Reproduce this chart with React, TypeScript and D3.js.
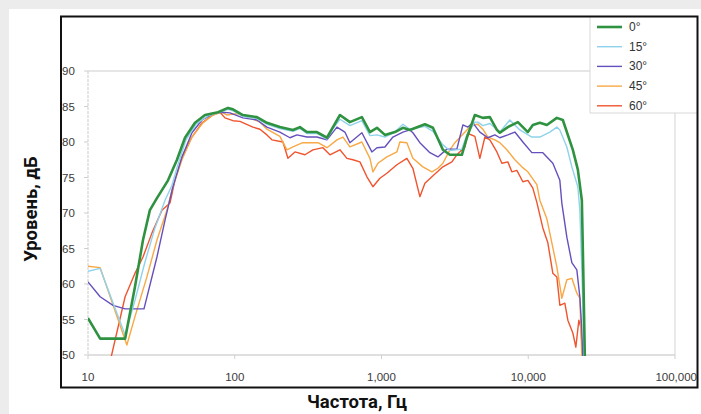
import React from "react";
import * as d3 from "d3";

const FREQ_TICKS = [10, 100, 1000, 10000, 100000];
const FREQ_LABELS = ["10", "100", "1,000", "10,000", "100,000"];
const DB_TICKS = [50, 55, 60, 65, 70, 75, 80, 85, 90];
const SERIES_NAMES = ["0°", "15°", "30°", "45°", "60°"];
const SERIES_COLORS = ["#2f9240", "#8fd2ec", "#6650bd", "#f8a844", "#f0542e"];

const curve0: [number, number][] = [
  [10, 55.2], [12.1, 52.3], [17.9, 52.3], [20.9, 59.6], [23.7, 66.2], [26.4, 70.4], [29.5, 72.1],
  [35.1, 74.6], [40.4, 77.5], [45.8, 80.6], [53.6, 82.7], [62.7, 83.8], [76.9, 84.2], [89.9, 84.8],
  [97.2, 84.6], [113.7, 83.8], [141.6, 83.5], [165.7, 82.7], [203, 82.1], [249, 81.7], [278, 82.1],
  [310, 81.4], [363, 81.4], [425, 80.6], [467, 82.1], [521, 83.8], [609, 82.8], [735, 83.5],
  [834, 81.4], [931, 82.0], [1055, 81.0], [1234, 81.4], [1399, 82.0], [1561, 81.7], [1976, 82.5],
  [2240, 82.0], [2620, 78.9], [2924, 78.2], [3529, 78.2], [3817, 80.6], [4328, 83.8], [4905, 83.4],
  [5475, 83.5], [6112, 81.7], [6405, 81.3], [7261, 82.1], [8497, 82.8], [9938, 81.4], [10748, 82.4],
  [11995, 82.7], [13387, 82.4], [15660, 83.4], [17206, 83.1], [20130, 78.9], [21773, 76.1],
  [23185, 71.8], [23700, 62], [24300, 49.7],
];

const curve15: [number, number][] = [
  [10, 61.8], [12.1, 62.2], [17.9, 52.8], [20.9, 57.7], [24.45, 63.1], [28.6, 67.9], [33.5, 71.8],
  [37.35, 73.9], [41, 76.8], [46.5, 80.3], [54.4, 82.5], [65.7, 83.7], [79.3, 84.2], [89.9, 84.6],
  [97.2, 84.4], [113.7, 83.6], [141.6, 83.3], [165.7, 82.5], [203, 81.9], [249, 81.5], [278, 81.9],
  [310, 81.2], [363, 81.2], [425, 80.4], [467, 81.9], [521, 83.2], [609, 82.3], [735, 83.0],
  [834, 80.9], [931, 81.0], [1055, 80.7], [1234, 81.4], [1399, 82.5], [1561, 81.8], [1976, 82.2],
  [2240, 81.5], [2620, 79.6], [2924, 78.8], [3529, 79.0], [3817, 81.0], [4328, 82.8], [4537, 82.8],
  [4905, 82.3], [5475, 82.6], [6405, 81.4], [7492, 83.1], [8767, 81.7], [10580, 80.7], [11995, 80.7],
  [14034, 81.4], [15660, 82.1], [16416, 81.7], [18323, 79.3], [19818, 76.5], [21773, 73.7],
  [22465, 70.4], [22800, 66.6], [23550, 57.3], [23922, 49.7],
];

const curve30: [number, number][] = [
  [10, 60.3], [12.1, 58.2], [14.8, 57.0], [17.9, 56.5], [24.07, 56.5], [29.5, 63.8], [33.5, 69.0],
  [37.9, 73.7], [43.7, 77.9], [51.1, 81.3], [59.8, 83.1], [73.3, 84.1], [81.8, 84.2], [92.75, 84.1],
  [113.7, 83.4], [141.6, 83.1], [165.7, 82.1], [203, 81.4], [237.7, 80.6], [265.3, 81.0], [310, 80.7],
  [363, 80.7], [425, 80.3], [497, 82.1], [563, 81.4], [609, 79.9], [735, 81.3], [860, 78.6],
  [931, 79.2], [1055, 79.3], [1196, 80.7], [1399, 81.4], [1561, 81.7], [1636, 81.3], [1826, 79.9],
  [2137, 78.5], [2423, 77.9], [2789, 79.0], [3263, 79.0], [3585, 82.4], [3877, 82.1], [4194, 82.7],
  [4681, 81.4], [5306, 80.6], [5922, 81.0], [6405, 80.6], [7261, 81.0], [8103, 81.4], [9189, 80.0],
  [10580, 78.5], [12573, 78.5], [14711, 77.0], [16416, 74.6], [16938, 71.4], [18323, 66.6],
  [19818, 63.0], [21434, 62.0], [22465, 58.2], [23185, 53.5], [23550, 49.7],
];

const curve45: [number, number][] = [
  [10, 62.5], [12.1, 62.3], [18.4, 51.4], [20.9, 55.4], [25.2, 61.0], [29.5, 66.2], [34.5, 70.4],
  [37.9, 73.7], [43.7, 77.5], [51.1, 80.7], [60.7, 82.7], [71, 83.8], [81.8, 84.2], [88.5, 83.8],
  [103.5, 84.0], [126.9, 83.4], [148.5, 82.8], [165.7, 81.8], [203, 80.8], [226.8, 78.9], [249, 79.3],
  [291, 79.9], [325, 79.9], [369, 79.9], [425, 79.2], [497, 80.3], [546, 80.7], [609, 79.3],
  [735, 80.0], [834, 77.7], [874, 75.8], [945, 77.0], [1088, 77.9], [1273, 78.6], [1334, 80.0],
  [1489, 79.9], [1636, 77.7], [1914, 76.5], [2205, 75.8], [2423, 76.3], [2620, 77.0], [2924, 78.9],
  [3162, 79.9], [3817, 81.7], [4129, 82.4], [4537, 82.5], [4905, 81.8], [5306, 80.7], [5922, 80.3],
  [6405, 79.9], [7149, 78.9], [8103, 77.5], [9045, 76.5], [9938, 75.8], [11445, 74.0], [11995, 71.8],
  [13387, 69.2], [14482, 65.8], [15660, 62.4], [16938, 58.0], [18323, 60.6], [19818, 60.8],
  [21434, 58.7], [22465, 58.0], [23185, 49.7],
];

const curve60: [number, number][] = [
  [14.3, 49.5], [17.9, 58.2], [20.9, 61.5], [23.7, 63.8], [27.3, 67.2], [31.9, 70.4], [36.2, 71.4],
  [39.1, 74.6], [43.7, 77.9], [51.1, 80.7], [59.8, 82.7], [71, 83.8], [79.3, 84.2], [85.8, 83.4],
  [97.2, 83.0], [108.5, 82.9], [133, 82.1], [148.5, 81.8], [165.7, 81.0], [179.2, 80.3], [213, 80.0],
  [230.4, 77.7], [257.1, 78.6], [300.7, 78.2], [341, 78.9], [398.9, 79.2], [445.3, 78.2],
  [520.8, 78.9], [581.3, 77.7], [638.8, 77.5], [712.7, 77.2], [795.5, 75.1], [874, 73.7],
  [975, 74.9], [1088, 75.6], [1273, 76.8], [1489, 77.7], [1636, 76.3], [1826, 72.3], [1976, 74.2],
  [2205, 75.1], [2620, 76.5], [3017, 77.2], [3263, 78.2], [3700, 79.3], [3877, 81.2], [4328, 80.8],
  [4681, 77.7], [5063, 80.7], [5475, 80.3], [6112, 78.6], [6610, 77.0], [7261, 77.2], [7731, 75.8],
  [8364, 76.0], [9189, 74.4], [9938, 74.6], [10748, 73.5], [11445, 71.5], [12573, 67.9],
  [13600, 65.8], [14711, 61.5], [15660, 61.0], [16416, 57.0], [17755, 57.3], [18612, 54.9],
  [20130, 53.1], [21100, 51.1], [22117, 54.9], [22820, 53.9], [23550, 49.7],
];

const SERIES = [curve0, curve15, curve30, curve45, curve60];

export default function App() {
  const W = 701;
  const H = 414;
  const x = d3.scaleLog().domain([10, 100000]).range([88, 675]);
  const y = d3.scaleLinear().domain([50, 90]).range([355, 71]);
  const line = d3
    .line<[number, number]>()
    .x((d) => x(d[0]))
    .y((d) => y(d[1]));

  const tickFont = "'Liberation Sans', Arial, sans-serif";
  const titleFont = "Roboto, 'Open Sans', sans-serif";
  const order = [4, 3, 2, 1, 0];

  return (
    <svg
      width={W}
      height={H}
      style={{ position: "absolute", left: 0, top: 0, display: "block" }}
    >
      <defs>
        <clipPath id="plotclip">
          <rect x={88} y={60} width={600} height={296} />
        </clipPath>
      </defs>
      <rect x={0} y={0} width={W} height={H} fill="#ececec" />
      <rect x={9} y={9} width={W - 9} height={H - 9} fill="#ffffff" />

      {/* grid / axes */}
      <line x1={88} x2={675} y1={y(90)} y2={y(90)} stroke="#dedede" strokeWidth={1.5} />
      <line x1={675} x2={675} y1={113} y2={355} stroke="#e2e2e2" strokeWidth={1.5} />
      <line x1={88} x2={675} y1={y(50)} y2={y(50)} stroke="#d4d4d4" strokeWidth={1.5} />
      <line x1={88} x2={88} y1={y(90)} y2={y(50)} stroke="#d4d4d4" strokeWidth={1.2} strokeDasharray="3,1" />
      {DB_TICKS.map((t) => (
        <line key={"yt" + t} x1={84} x2={88} y1={y(t)} y2={y(t)} stroke="#cfcfcf" strokeWidth={1} />
      ))}
      {FREQ_TICKS.map((t) => (
        <line key={"xt" + t} x1={x(t)} x2={x(t)} y1={355} y2={359} stroke="#cfcfcf" strokeWidth={1} />
      ))}

      {/* tick labels */}
      {DB_TICKS.map((t) => (
        <text
          key={"yl" + t}
          x={62}
          y={y(t) + 4}
          fontFamily={tickFont}
          fontSize={11.5}
          fill="#3a3a3a"
        >
          {t}
        </text>
      ))}
      {FREQ_TICKS.map((t, i) => (
        <text
          key={"xl" + t}
          x={i === 4 ? 697 : x(t)}
          y={381}
          textAnchor={i === 4 ? "end" : "middle"}
          fontFamily={tickFont}
          fontSize={11.5}
          fill="#3a3a3a"
        >
          {FREQ_LABELS[i]}
        </text>
      ))}

      {/* curves */}
      <g clipPath="url(#plotclip)">
        {order.map((i) => (
          <path
            key={"s" + i}
            d={line(SERIES[i]) || ""}
            fill="none"
            stroke={SERIES_COLORS[i]}
            strokeWidth={i === 0 ? 2.6 : 1.4}
            strokeLinejoin="round"
          />
        ))}
      </g>

      {/* legend */}
      <rect x={590} y={17} width={107} height={96} fill="#ffffff" />
      <line x1={590} x2={590} y1={17} y2={113} stroke="#d8d8d8" strokeWidth={1} />
      <line x1={590} x2={697} y1={113} y2={113} stroke="#d8d8d8" strokeWidth={1} />
      {SERIES_NAMES.map((name, i) => {
        const ly = 27 + i * 19.7;
        return (
          <g key={"lg" + i}>
            <line
              x1={597}
              x2={622}
              y1={ly}
              y2={ly}
              stroke={SERIES_COLORS[i]}
              strokeWidth={i === 0 ? 2.6 : 1.4}
            />
            <text x={629} y={ly + 4} fontFamily={tickFont} fontSize={12} fill="#333">
              {name}
            </text>
          </g>
        );
      })}

      {/* frame */}
      <rect x={61} y={16.5} width={636.5} height={371} fill="none" stroke="#111" strokeWidth={2} />

      {/* axis titles */}
      <text
        transform="translate(37,209) rotate(-90)"
        textAnchor="middle"
        fontFamily={titleFont}
        fontWeight={700}
        fontSize={18.5}
        fill="#111"
      >
        Уровень, дБ
      </text>
      <text
        x={357}
        y={408}
        textAnchor="middle"
        fontFamily={titleFont}
        fontWeight={700}
        fontSize={18.5}
        fill="#111"
      >
        Частота, Гц
      </text>
    </svg>
  );
}
